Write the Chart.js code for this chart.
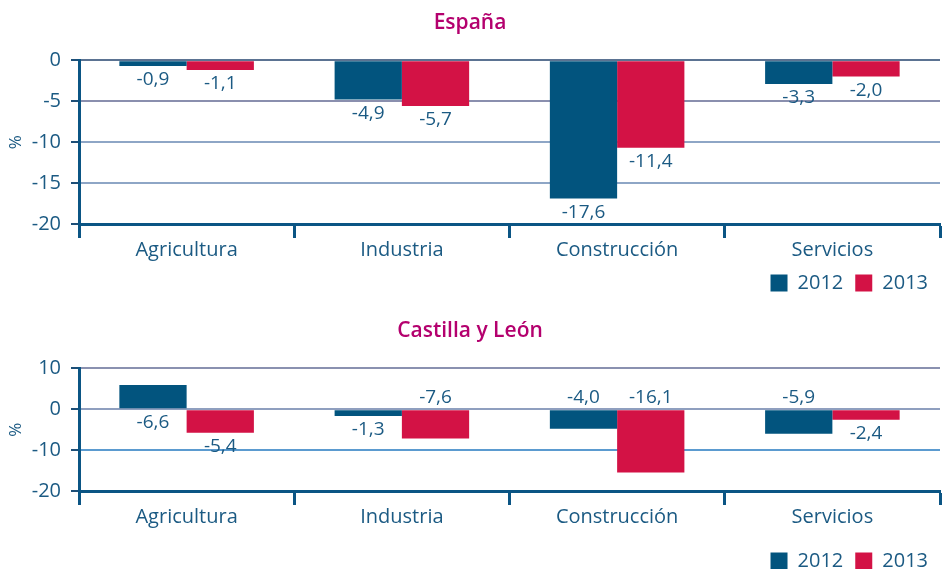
<!DOCTYPE html>
<html>
<head>
<meta charset="utf-8">
<script src="https://cdn.jsdelivr.net/npm/chart.js@4.4.1/dist/chart.umd.min.js"></script>
<style>
  html, body { margin: 0; padding: 0; background: #fff; overflow: hidden; }
  #wrap { position: relative; width: 946px; height: 569px; overflow: hidden; }
  .box { position: absolute; left: 0; width: 946px; }
</style>
</head>
<body>
<div id="wrap">
  <div class="box" style="top:0;height:303px"><canvas id="espana"></canvas></div>
  <div class="box" style="top:302px;height:279px"><canvas id="cyl"></canvas></div>
</div>
<script>
// Sectores
const categories = ['Agricultura', 'Industria', 'Construcción', 'Servicios'];
const years = ['2012', '2013'];

// España: altura de las barras tal como se ven, y etiquetas
const espana2012 = [-0.7, -4.8, -16.9, -2.9];
const espana2013 = [-1.2, -5.6, -10.7, -2.0];
const espanaLabels2012 = ['-0,9', '-4,9', '-17,6', '-3,3'];
const espanaLabels2013 = ['-1,1', '-5,7', '-11,4', '-2,0'];

// Castilla y León
const cyl2012 = [5.9, -1.7, -4.8, -6.0];
const cyl2013 = [-5.8, -7.2, -15.5, -2.6];
const cylLabels2012 = ['-6,6', '-1,3', '-4,0', '-5,9'];
const cylLabels2013 = ['-5,4', '-7,6', '-16,1', '-2,4'];
// where each label sits: below the bar or above it
const cylAnchors2012 = ['below', 'below', 'above', 'above'];
const cylAnchors2013 = ['below', 'above', 'above', 'below'];

const blue = '#02547e';
const red = '#d31245';
const textColor = '#1b5a83';
const titleColor = '#b4006e';
const axisColor = '#0b5584';

Chart.defaults.font.family = '"Open Sans", sans-serif';
Chart.defaults.color = textColor;

function labelPlugin(texts, anchors) {
    return {
        id: 'valueLabels',
        afterDatasetsDraw(chart) {
            const ctx = chart.ctx;
            ctx.save();
            ctx.font = '19px "Open Sans", sans-serif';
            ctx.fillStyle = textColor;
            ctx.textAlign = 'center';
            ctx.textBaseline = 'middle';
            chart.data.datasets.forEach((ds, i) => {
                chart.getDatasetMeta(i).data.forEach((bar, j) => {
                    const top = Math.min(bar.y, bar.base);
                    const bottom = Math.max(bar.y, bar.base);
                    const where = anchors ? anchors[i][j] : 'below';
                    const y = where === 'above' ? top - 13 : bottom + 14;
                    ctx.fillText(texts[i][j], bar.x, y);
                });
            });
            ctx.restore();
        }
    };
}

function makeChart(id, cfg) {
    return new Chart(document.getElementById(id), {
        type: 'bar',
        data: {
            labels: categories,
            datasets: [
                { label: years[0], data: cfg.a, backgroundColor: blue },
                { label: years[1], data: cfg.b, backgroundColor: red }
            ]
        },
        plugins: [labelPlugin(cfg.texts, cfg.anchors)],
        options: {
            responsive: true,
            maintainAspectRatio: false,
            animation: false,
            layout: { padding: { left: 0, right: 6, top: 0, bottom: 0 } },
            datasets: {
                bar: { barPercentage: 1, categoryPercentage: 0.625 }
            },
            plugins: {
                tooltip: { enabled: false },
                title: {
                    display: true,
                    text: cfg.title,
                    color: titleColor,
                    font: { size: 21, weight: '600' },
                    padding: { top: cfg.titleTop, bottom: cfg.titleBottom }
                },
                legend: {
                    position: 'bottom',
                    align: 'end',
                    labels: {
                        boxWidth: 17,
                        boxHeight: 17,
                        padding: 12,
                        color: textColor,
                        font: { size: 20 }
                    }
                }
            },
            scales: {
                x: {
                    afterFit: s => { s.height = cfg.xHeight; },
                    border: { color: axisColor, width: 3 },
                    grid: {
                        offset: true,
                        drawOnChartArea: false,
                        drawTicks: true,
                        tickLength: 14,
                        tickColor: axisColor,
                        tickWidth: 3
                    },
                    ticks: { padding: 0, color: textColor, font: { size: 20 } }
                },
                y: {
                    min: cfg.min,
                    max: cfg.max,
                    afterFit: s => { s.width = 79; },
                    border: { color: axisColor, width: 3 },
                    grid: {
                        color: c => cfg.gridColors[c.index] || '#8ea6c6',
                        lineWidth: 2,
                        tickLength: 8,
                        tickColor: '#1d4f78',
                        tickWidth: 2
                    },
                    ticks: {
                        stepSize: cfg.step,
                        padding: 10,
                        color: textColor,
                        font: { size: 20 },
                        callback: v => String(v)
                    },
                    title: {
                        display: true,
                        text: '%',
                        color: textColor,
                        font: { size: 17 },
                        padding: { top: 6, bottom: 0 }
                    }
                }
            }
        }
    });
}

makeChart('espana', {
    title: 'España',
    titleTop: 10, titleBottom: 25,
    xHeight: 37,
    a: espana2012, b: espana2013,
    texts: [espanaLabels2012, espanaLabels2013],
    anchors: null,
    min: -20, max: 0, step: 5,
    // ticks from -20 up to 0
    gridColors: [axisColor, '#8ea6c6', '#8ea6c6', '#8a8fae', '#5b7392']
});

makeChart('cyl', {
    title: 'Castilla y León',
    titleTop: 16, titleBottom: 25,
    xHeight: 48,
    a: cyl2012, b: cyl2013,
    texts: [cylLabels2012, cylLabels2013],
    anchors: [cylAnchors2012, cylAnchors2013],
    min: -20, max: 10, step: 10,
    // ticks -20, -10, 0, 10
    gridColors: [axisColor, '#5b9bd0', '#8f9fbf', '#8a91b0']
});
</script>
</body>
</html>
